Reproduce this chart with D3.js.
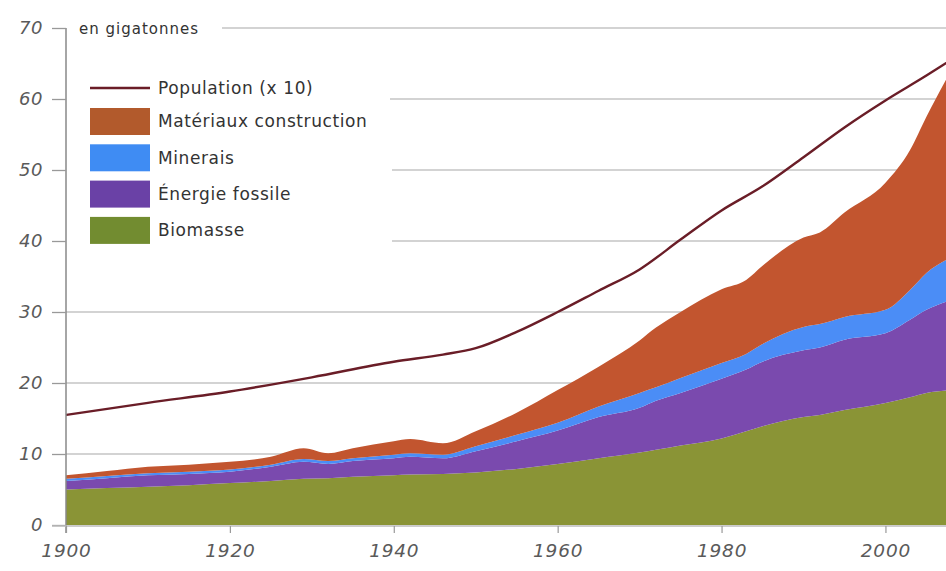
<!DOCTYPE html>
<html>
<head>
<meta charset="utf-8">
<script src="https://cdn.jsdelivr.net/npm/d3@7"></script>
<style>
  body { margin: 0; background: #fff; }
  svg { display: block; }
  text { font-family: "DejaVu Sans", "Open Sans", sans-serif; }
</style>
</head>
<body>
<svg id="chart" width="946" height="571"></svg>
<script>
// ---- data (gigatonnes) ----
const years        = [1900,1905,1910,1915,1920,1925,1929,1932,1935,1940,1942,1946,1950,1955,1960,1965,1970,1972,1975,1980,1983,1985,1990,1992,1995,2000,2003,2005,2008];
const biomasse     = [5.0,5.2,5.4,5.6,5.9,6.2,6.5,6.6,6.8,7.0,7.1,7.2,7.4,7.9,8.6,9.4,10.2,10.6,11.2,12.2,13.2,13.9,15.2,15.5,16.2,17.2,18.0,18.6,19.0];
const energieFoss  = [1.2,1.4,1.6,1.6,1.6,2.0,2.4,2.0,2.2,2.4,2.5,2.2,3.0,3.9,4.7,5.8,6.3,6.9,7.4,8.4,8.7,9.1,9.4,9.5,9.9,9.8,10.9,11.7,12.7];
const minerais     = [0.3,0.3,0.3,0.3,0.3,0.3,0.4,0.4,0.4,0.5,0.5,0.5,0.7,0.9,1.1,1.5,2.1,1.9,2.1,2.2,2.2,2.5,3.3,3.3,3.2,3.3,4.2,5.2,6.0];
const construction = [0.5,0.7,0.9,1.0,1.1,1.1,1.5,1.1,1.4,1.9,2.0,1.6,2.1,3.1,4.6,5.6,7.4,8.4,9.3,10.4,10.4,11.0,12.6,12.9,14.7,17.9,19.7,22.0,26.3];

const popYears = [1900,1910,1920,1930,1940,1946,1950,1955,1960,1965,1970,1975,1980,1985,1990,1995,2000,2005,2008];
const popX10   = [15.5,17.2,18.8,20.8,23.0,24.0,24.9,27.2,30.0,33.0,36.0,40.2,44.3,47.7,51.8,56.0,59.8,63.3,65.5];

const yTicks = [0,10,20,30,40,50,60,70];
const xTicks = [1900,1920,1940,1960,1980,2000];

const seriesKeys   = ["biomasse","energie","minerais","construction"];
const seriesLabels = {construction:"Matériaux construction", minerais:"Minerais", energie:"Énergie fossile", biomasse:"Biomasse"};
const colors = {biomasse:"#8a9436", energie:"#7a4aae", minerais:"#4b8df6", construction:"#c2552f"};
const legendColors = {biomasse:"#728c30", energie:"#6a41a6", minerais:"#3f8cf3", construction:"#b25a2c"};
const popColor = "#6a1d27";

// ---- build table ----
const table = years.map((yr,i) => ({year: yr, biomasse: biomasse[i], energie: energieFoss[i], minerais: minerais[i], construction: construction[i]}));
const popData = popYears.map((yr,i) => ({year: yr, v: popX10[i]}));

const svg = d3.select("#chart");
const x = d3.scaleLinear().domain([1900, 2008]).range([66, 951]);
const y = d3.scaleLinear().domain([0, 70]).range([525, 28]);

// gridlines
const gridStart = {70: 222, 60: 390, 50: 392, 40: 392};
svg.append("g").selectAll("line").data(yTicks.filter(d => d > 0)).join("line")
  .attr("x1", d => gridStart[d] || 66)
  .attr("x2", 946)
  .attr("y1", d => y(d)).attr("y2", d => y(d))
  .attr("stroke", "#c4c4c4").attr("stroke-width", 1.6);

// stacked areas
const stack = d3.stack().keys(seriesKeys);
const stacked = stack(table);
const area = d3.area()
  .x(d => x(d.data.year))
  .y0(d => y(d[0]))
  .y1(d => y(d[1]))
  .curve(d3.curveMonotoneX);
svg.append("g").selectAll("path").data(stacked).join("path")
  .attr("d", area)
  .attr("fill", d => colors[d.key]);

// population line
const line = d3.line().x(d => x(d.year)).y(d => y(d.v)).curve(d3.curveMonotoneX);
svg.append("path").datum(popData)
  .attr("d", line)
  .attr("fill", "none")
  .attr("stroke", popColor)
  .attr("stroke-width", 2.4);

// y axis
const yAxis = d3.axisLeft(y).tickValues(yTicks).tickSize(14).tickPadding(9).tickFormat(d3.format("d"));
const gy = svg.append("g").attr("transform", "translate(66,0)").call(yAxis);
gy.select(".domain").attr("d", `M0,${y(70)}V${y(0)+8}`).attr("stroke", "#888").attr("stroke-width", 1.5);
gy.selectAll(".tick line").attr("stroke", "#999").attr("stroke-width", 1.3);
gy.selectAll(".tick text").attr("fill", "#5a5a5a").attr("font-size", 18).attr("font-style", "oblique").attr("letter-spacing", 0.5);

// x axis
const xAxis = d3.axisBottom(x).tickValues(xTicks).tickSize(7).tickPadding(11).tickFormat(d3.format("d"));
const gx = svg.append("g").attr("transform", `translate(0,${y(0)+1})`).call(xAxis);
gx.select(".domain").attr("d", `M52,0H946`).attr("stroke", "#bbb").attr("stroke-width", 1.3);
gx.selectAll(".tick line").attr("stroke", "#999").attr("stroke-width", 1.2);
gx.selectAll(".tick text").attr("fill", "#5a5a5a").attr("font-size", 18.5).attr("font-style", "oblique").attr("letter-spacing", 0.8);

// unit label
svg.append("text").attr("x", 79).attr("y", 34).attr("font-size", 15).attr("fill", "#333").attr("letter-spacing", 1).text("en gigatonnes");

// legend
const lg = svg.append("g");
lg.append("line").attr("x1", 90).attr("x2", 150).attr("y1", 88).attr("y2", 88).attr("stroke", popColor).attr("stroke-width", 2.6);
lg.append("text").attr("x", 158).attr("y", 88).attr("dy", "0.35em").attr("font-size", 17).attr("fill", "#333").attr("letter-spacing", 0.6).text("Population (x 10)");
const legOrder = ["construction","minerais","energie","biomasse"];
legOrder.forEach((k,i) => {
  const yy = 108 + i*36.3;
  lg.append("rect").attr("x", 90).attr("y", yy).attr("width", 60).attr("height", 27).attr("fill", legendColors[k]);
  lg.append("text").attr("x", 158).attr("y", yy + 13.5).attr("dy", "0.35em").attr("font-size", 17).attr("fill", "#333").attr("letter-spacing", 0.6).text(seriesLabels[k]);
});
</script>
</body>
</html>
